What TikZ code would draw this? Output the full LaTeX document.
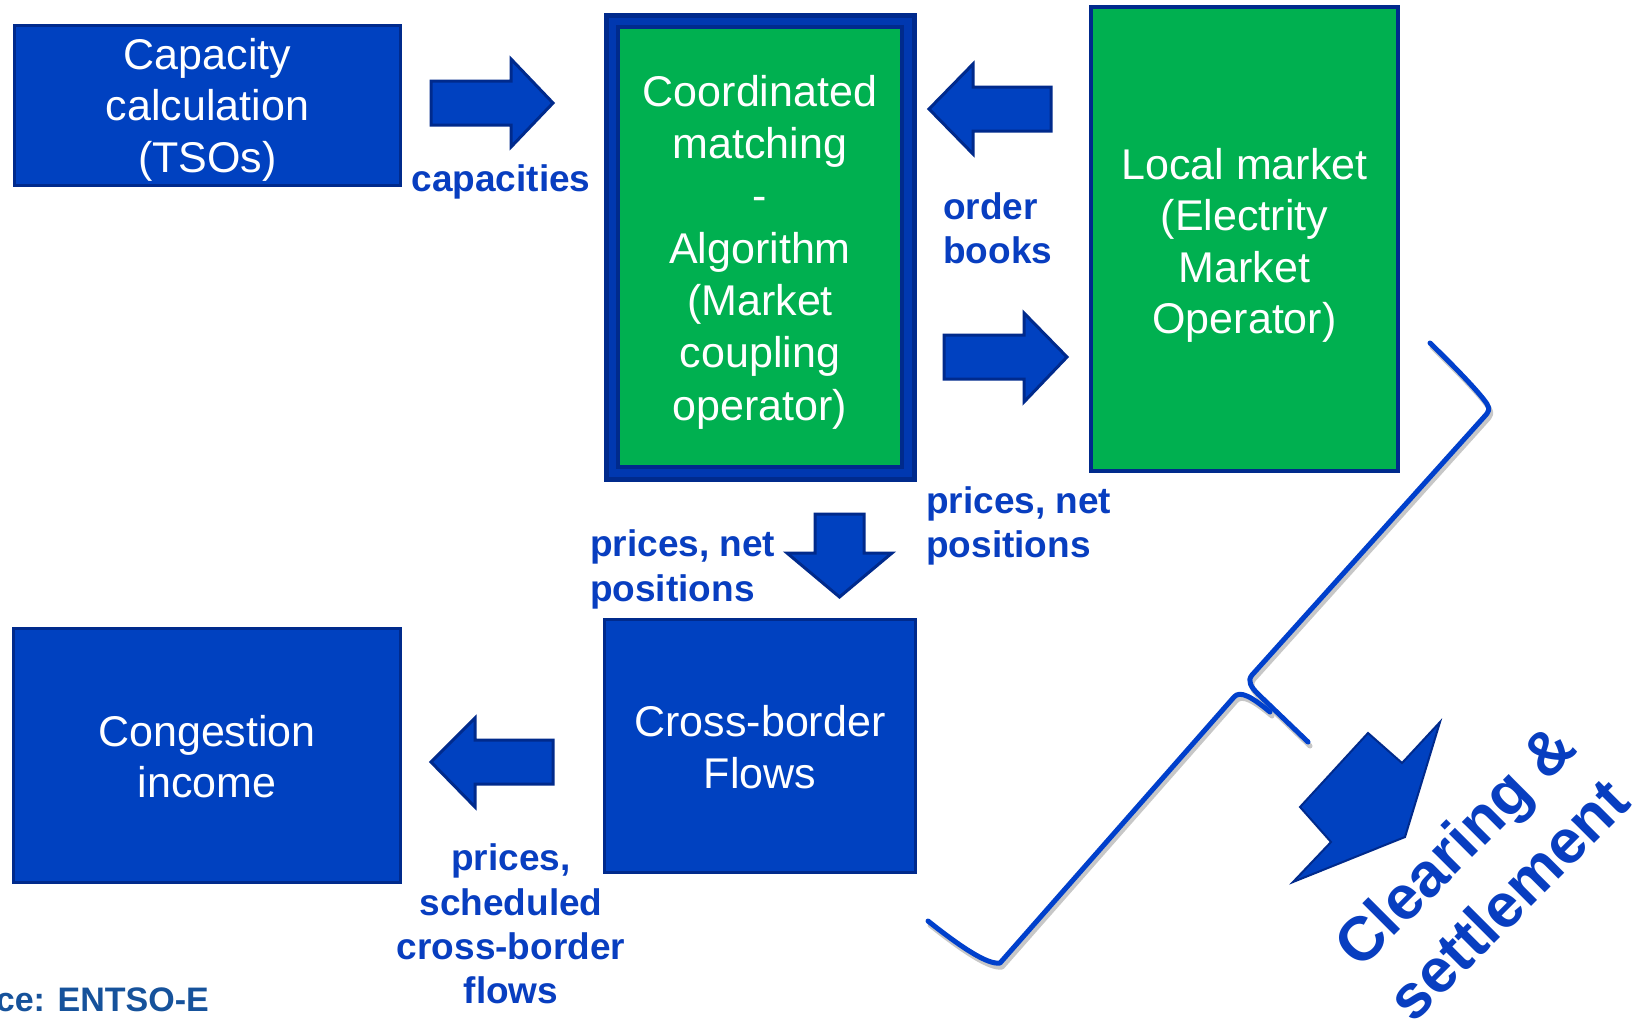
\documentclass[tikz,border=0pt]{standalone}
\usepackage{fontspec}
\setmainfont{Liberation Sans}
\definecolor{navy}{RGB}{0,42,140}
\definecolor{boxblue}{RGB}{0,65,192}
\definecolor{midblue}{RGB}{0,56,176}
\definecolor{mgreen}{RGB}{0,176,80}
\definecolor{labblue}{RGB}{8,62,192}
\definecolor{braceblue}{RGB}{0,64,204}
\definecolor{srcblue}{RGB}{22,82,155}
\newcommand\boxfont{\fontsize{43}{51.5}\selectfont}
\newcommand\coordfont{\fontsize{43}{52.3}\selectfont}
\newcommand\labfont{\fontsize{37}{44.4}\selectfont\bfseries}
\newcommand\srcfont{\fontsize{34}{40}\selectfont\bfseries}
\newcommand\clrfont{\fontsize{62}{76}\selectfont\bfseries}
\begin{document}
\begin{tikzpicture}[x=1pt,y=-1pt,
  box/.style={draw=navy, line width=3pt, fill=boxblue, inner sep=0pt},
  gbox/.style={draw=navy, line width=4pt, fill=mgreen, inner sep=0pt},
  boxtxt/.style={text=white, font=\boxfont, align=center, inner sep=0pt},
  lab/.style={text=labblue, font=\labfont, inner sep=0pt},
  barrow/.style={fill=boxblue, draw=navy, line width=3pt, line join=miter},
  brace/.style={draw=braceblue, line width=5pt, line cap=round, line join=round},
  braceshadow/.style={draw=black!22, line width=5pt, line cap=round, line join=round}]
\useasboundingbox (0,0) rectangle (1645,1023);
\fill[white] (0,0) rectangle (1645,1023);

% boxes
\node[box, minimum width=386pt, minimum height=160pt] (cap) at (207.5,105.5) {};
\node[boxtxt] (captxt) at ([yshift=-4pt]cap.center) {Capacity\\calculation\\(TSOs)};
\node[draw=navy, line width=5pt, fill=midblue, minimum width=308pt, minimum height=464pt, inner sep=0pt] (coordframe) at (760.5,247.5) {};
\node[gbox, minimum width=284pt, minimum height=440pt] (coord) at (760,247) {};
\node[boxtxt, font=\coordfont] (coordtxt) at ([yshift=-5pt]coord.center) {Coordinated\\matching\\-\\Algorithm\\(Market\\coupling\\operator)};
\node[gbox, minimum width=307pt, minimum height=464pt] (local) at (1244.5,239) {};
\node[boxtxt] (localtxt) at ([yshift=-6.5pt]local.center) {Local market\\(Electrity\\Market\\Operator)};
\node[box, minimum width=311pt, minimum height=253pt] (cross) at (760,746) {};
\node[boxtxt] (crosstxt) at ([yshift=-1pt]cross.center) {Cross-border\\Flows};
\node[box, minimum width=387pt, minimum height=254pt] (cong) at (207,755.5) {};
\node[boxtxt] (congtxt) at ([yshift=-1pt]cong.center) {Congestion\\income};

% block arrows
\draw[barrow] (431,81) -- (511,81) -- (511,59) -- (553,103) -- (511,147) -- (511,125) -- (431,125) -- cycle;
\draw[barrow] (1051,87) -- (973,87) -- (973,64) -- (929,109) -- (973,154) -- (973,131) -- (1051,131) -- cycle;
\draw[barrow] (944,335) -- (1024,335) -- (1024,313) -- (1067,357) -- (1024,402) -- (1024,379) -- (944,379) -- cycle;
\draw[barrow] (815,514) -- (864,514) -- (864,553) -- (892,553) -- (839.5,597) -- (787,553) -- (815,553) -- cycle;
\draw[barrow] (553,740) -- (475,740) -- (475,718) -- (431,762) -- (475,807) -- (475,784) -- (553,784) -- cycle;

% labels
\node[lab] (capl) at (501,182) {capacities};
\node[lab, anchor=west, align=left] (obl) at (943,228) {order\\books};
\node[lab, anchor=west, align=left] (pnr) at (926,526) {prices, net\\positions};
\node[lab, anchor=west, align=left] (pnl) at (590,569.5) {prices, net\\positions};
\node[lab, align=center] (psl) at (511,924) {prices,\\scheduled\\cross-border\\flows};
\node[text=srcblue, font=\srcfont, anchor=east, inner sep=0pt] (src) at (209,1000) {ce: ENTSO-E};

% brace shadow
\begin{scope}[shift={(2,4)}]
\draw[braceshadow] (1430,343) .. controls (1462,374) and (1482,396) .. (1487,404) .. controls (1490,409) and (1489,412) .. (1484,417) -- (1252,675) .. controls (1247,681) and (1251,687) .. (1258,694) -- (1308,742);
\draw[braceshadow] (928,921) .. controls (962,948) and (988,965) .. (1000,963) -- (1234,697) .. controls (1240,690) and (1252,697) .. (1270,712);
\end{scope}
% brace
\draw[brace] (1430,343) .. controls (1462,374) and (1482,396) .. (1487,404) .. controls (1490,409) and (1489,412) .. (1484,417) -- (1252,675) .. controls (1247,681) and (1251,687) .. (1258,694) -- (1308,742);
\draw[brace] (928,921) .. controls (962,948) and (988,965) .. (1000,963) -- (1234,697) .. controls (1240,690) and (1252,697) .. (1270,712);

% clearing arrow
\draw[fill=boxblue, draw=navy, line width=2pt, line join=miter] (1368,733) -- (1402,763) -- (1440,722) -- (1405,837) -- (1293,882) -- (1331,842) -- (1300,807) -- cycle;
\node[text=labblue, font=\clrfont, rotate=45, align=center, inner sep=0pt] (clr) at (1481,872) {Clearing \&\\settlement};
\end{tikzpicture}
\end{document}
